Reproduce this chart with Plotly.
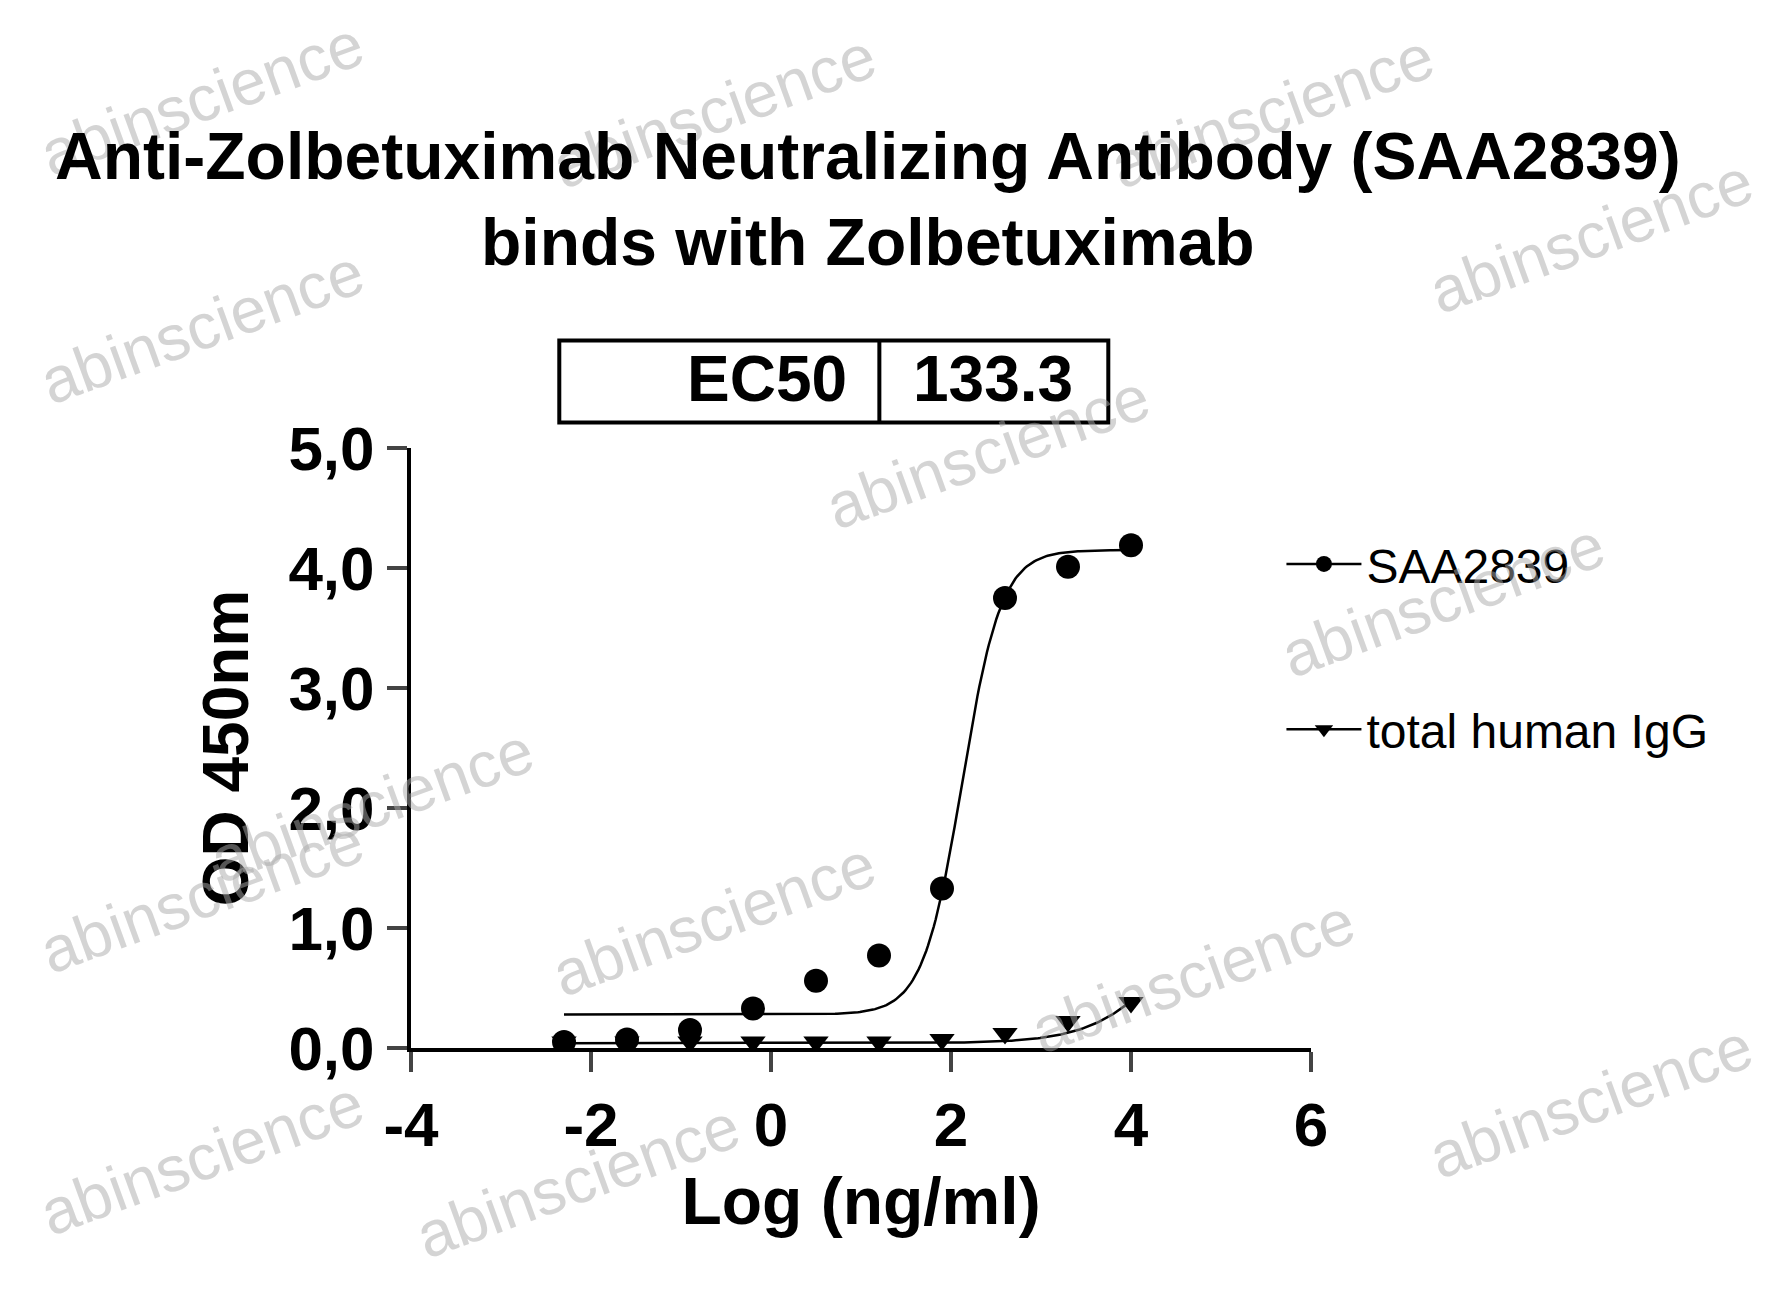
import numpy as np
import plotly.graph_objects as go

log_conc = [-2.3, -1.6, -0.9, -0.2, 0.5, 1.2, 1.9, 2.6, 3.3, 4.0]
saa2839 = [0.05, 0.07, 0.15, 0.33, 0.56, 0.77, 1.33, 3.75, 4.01, 4.19]
igg = [0.05, 0.05, 0.05, 0.05, 0.05, 0.05, 0.07, 0.12, 0.22, 0.38]
ec50 = 133.3
x_ticks = [-4, -2, 0, 2, 4, 6]
y_ticks = [0, 1, 2, 3, 4, 5]
y_labels = ["0,0", "1,0", "2,0", "3,0", "4,0", "5,0"]
# 4PL fit parameters (bottom, top, logEC50, hill)
fit_saa = (0.28, 4.15, np.log10(ec50), 2.0)
fit_igg = (0.04, 1.5, 4.5, 1.0)

S = 1786 / 1568
L, R, T, B = 403, 1303, 440, 1040
W, H = 1786, 1295
def px(x): return (x * S - L) / (R - L)
def py(y): return (B - y * S) / (B - T)

def fpl(x, p):
    b, t, e, h = p
    return b + (t - b) / (1 + 10 ** ((e - x) * h))

xs = np.linspace(-2.3, 4.0, 300)
fig = go.Figure()
fig.add_trace(go.Scatter(x=xs, y=fpl(xs, fit_saa), mode="lines", line=dict(color="black", width=2.5), showlegend=False))
fig.add_trace(go.Scatter(x=xs, y=fpl(xs, fit_igg), mode="lines", line=dict(color="black", width=2.5), showlegend=False))
fig.add_trace(go.Scatter(x=log_conc, y=saa2839, mode="markers", marker=dict(symbol="circle", size=24, color="black"), showlegend=False))
fig.add_trace(go.Scatter(x=log_conc, y=igg, mode="markers", marker=dict(symbol="triangle-down", size=22, color="black"), showlegend=False))
fig.add_trace(go.Scatter(x=[None], y=[None], mode="lines+markers", name="SAA2839", legendgroup="a", marker=dict(symbol="circle", size=24, color="black"), line=dict(color="black", width=2.5)))
fig.add_trace(go.Scatter(x=[None], y=[None], mode="lines+markers", name="total human IgG", legendgroup="b", marker=dict(symbol="triangle-down", size=22, color="black"), line=dict(color="black", width=2.5)))

ann = []
for tx, ty in [(170, 80), (620, 90), (1110, 90), (170, 280), (1390, 200),
               (860, 390), (1260, 520), (320, 700), (620, 800), (1040, 850),
               (170, 1010), (1390, 960), (500, 1030), (170, 780)]:
    ann.append(dict(x=px(tx), y=py(ty), xref="paper", yref="paper", xanchor="center", yanchor="middle",
                    text="abinscience", showarrow=False, textangle=-20,
                    font=dict(size=64, color="rgba(170,170,170,0.5)", family="Liberation Sans")))
ann += [
    dict(x=px(755), y=py(168), xref="paper", yref="paper", xanchor="center", yanchor="middle", showarrow=False,
         text="<b>Anti-Zolbetuximab Neutralizing Antibody (SAA2839)<br>binds with Zolbetuximab</b>",
         font=dict(size=66, color="black", family="Liberation Sans")),
    dict(x=px(666), y=py(326), xref="paper", yref="paper", xanchor="center", yanchor="middle", showarrow=False, text="<b>EC50</b>",
         font=dict(size=64, color="black", family="Liberation Sans")),
    dict(x=px(865), y=py(326), xref="paper", yref="paper", xanchor="center", yanchor="middle", showarrow=False, text="<b>%s</b>" % ec50,
         font=dict(size=64, color="black", family="Liberation Sans")),
]
shapes = [
    dict(type="rect", xref="paper", yref="paper", x0=px(484), x1=px(966), y0=py(292), y1=py(364), line=dict(color="black", width=4)),
    dict(type="line", xref="paper", yref="paper", x0=px(765), x1=px(765), y0=py(292), y1=py(364), line=dict(color="black", width=4)),
]
fig.update_layout(
    width=W, height=H, margin=dict(l=L, r=W - R, t=T, b=H - B),
    plot_bgcolor="white", paper_bgcolor="white",
    font=dict(family="Liberation Sans", color="black"),
    annotations=ann, shapes=shapes,
    legend=dict(x=px(1118), y=py(455), xanchor="left", yanchor="top", font=dict(size=48),
                tracegroupgap=100, itemwidth=75, bgcolor="rgba(0,0,0,0)"),
    xaxis=dict(range=[-4, 6], tickvals=x_ticks, ticktext=["<b>%d</b>" % v for v in x_ticks], showgrid=False, zeroline=False,
               showline=True, linecolor="black", linewidth=4, ticks="outside", ticklen=20, tickwidth=4,
               tickfont=dict(size=62, family="Liberation Sans"),
               title=dict(text="<b>Log (ng/ml)</b>", font=dict(size=66), standoff=20)),
    yaxis=dict(range=[0, 5], tickvals=y_ticks, ticktext=["<b>%s</b>" % s for s in y_labels],
               showgrid=False, zeroline=False, showline=True, linecolor="black", linewidth=4,
               ticks="outside", ticklen=20, tickwidth=4, tickfont=dict(size=62, family="Liberation Sans"),
               title=dict(text="<b>OD 450nm</b>", font=dict(size=64), standoff=20)),
)
fig.write_html("out.html")
